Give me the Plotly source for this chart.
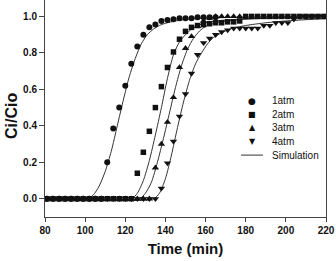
import plotly.graph_objects as go

# ---- experimental data (time in min, Ci/Cio) ----
t_1atm = [81, 84, 87, 90, 93, 96, 99, 102, 105, 108, 111, 114, 117, 120, 123, 126, 129, 132,
          135, 138, 141, 144, 147, 150, 153, 156, 159, 162, 165]
v_1atm = [0, 0, 0, 0, 0, 0, 0, 0, 0, 0, 0.20, 0.385, 0.50, 0.62, 0.74, 0.835, 0.90, 0.94,
          0.955, 0.975, 0.98, 0.985, 0.99, 0.99, 0.99, 0.995, 0.995, 0.995, 0.995]

t_2atm = [81, 84, 87, 90, 93, 96, 99, 102, 105, 108, 111, 114, 117, 120, 123, 126, 129, 132,
          135, 138, 141, 144, 147, 150, 153, 156, 159, 162, 165, 168, 171, 174, 177, 180,
          183, 186, 189, 192, 195, 198, 201, 204, 207, 210, 213, 216, 219]
v_2atm = [0, 0, 0, 0, 0, 0, 0, 0, 0, 0, 0, 0, 0, 0, 0, 0.14, 0.255, 0.37,
          0.50, 0.615, 0.72, 0.805, 0.875, 0.918, 0.94, 0.95, 0.955, 0.96, 0.965, 0.965, 0.97, 0.97, 0.975, 1.0,
          1.0, 1.0, 1.0, 1.0, 1.0, 1.0, 1.0, 1.0, 1.0, 1.0, 1.0, 1.0, 1.0]

t_3atm = [81, 84, 87, 90, 93, 96, 99, 102, 105, 108, 111, 114, 117, 120, 123, 126, 129, 132,
          135, 138, 141, 144, 147, 150, 153, 156, 159, 162, 165, 168, 171, 174, 177]
v_3atm = [0, 0, 0, 0, 0, 0, 0, 0, 0, 0, 0, 0, 0, 0, 0, 0, 0, 0,
          0.17, 0.30, 0.42, 0.556, 0.72, 0.825, 0.89, 0.945, 0.975, 0.99, 1.0, 1.0, 1.0, 1.0, 1.0]

t_4atm = [81, 84, 87, 90, 93, 96, 99, 102, 105, 108, 111, 114, 117, 120, 123, 126, 129, 132,
          135, 138, 141, 144, 147, 150, 153, 156, 159, 162, 165, 168, 171, 174, 177, 180,
          183, 186, 189, 192, 195, 198, 201, 204, 207, 210, 213, 216, 219]
v_4atm = [0, 0, 0, 0, 0, 0, 0, 0, 0, 0, 0, 0, 0, 0, 0, 0, 0, 0,
          0, 0.057, 0.196, 0.315, 0.452, 0.575, 0.687, 0.79, 0.855, 0.88, 0.90, 0.915, 0.925, 0.935, 0.935, 0.935,
          0.935, 0.935, 0.95, 0.95, 0.965, 0.965, 0.965, 0.985, 1.0, 1.0, 1.0, 1.0, 1.0]

# ---- simulation curves ----
sim1_t = [80, 101, 104, 107, 110, 113, 116, 119, 122, 125, 128, 131, 134, 137, 140, 145, 150, 160, 180, 220]
sim1_v = [0, 0, 0.02, 0.07, 0.15, 0.26, 0.40, 0.54, 0.67, 0.77, 0.85, 0.90, 0.93, 0.95, 0.962, 0.975, 0.983, 0.99, 0.996, 1.0]

sim2_t = [80, 123, 126, 129, 132, 135, 138, 141, 144, 147, 150, 153, 156, 160, 165, 170, 180, 200, 220]
sim2_v = [0, 0, 0.03, 0.10, 0.21, 0.35, 0.50, 0.66, 0.79, 0.86, 0.90, 0.93, 0.95, 0.965, 0.975, 0.98, 0.987, 0.995, 0.998]

sim3_t = [80, 127, 130, 133, 136, 139, 142, 145, 148, 151, 154, 157, 160, 165, 170, 180, 200, 220]
sim3_v = [0, 0, 0.03, 0.09, 0.20, 0.33, 0.47, 0.61, 0.73, 0.82, 0.88, 0.92, 0.945, 0.965, 0.975, 0.985, 0.993, 0.997]

sim4_t = [80, 134, 137, 140, 143, 146, 149, 152, 155, 158, 161, 164, 168, 172, 180, 190, 200, 210, 220]
sim4_v = [0, 0, 0.03, 0.11, 0.24, 0.39, 0.53, 0.65, 0.74, 0.80, 0.85, 0.885, 0.91, 0.93, 0.95, 0.965, 0.975, 0.982, 0.988]

x_ticks = [80, 100, 120, 140, 160, 180, 200, 220]
y_ticks = [0.0, 0.2, 0.4, 0.6, 0.8, 1.0]

legend_labels = ["1atm", "2atm", "3atm", "4atm", "Simulation"]
legend_glyphs = ["\u25CF", "\u25A0", "\u25B2", "\u25BC"]

INK = "#111111"
FONT = "Liberation Sans, Arial, sans-serif"

fig = go.Figure()

for tt, vv in [(sim1_t, sim1_v), (sim2_t, sim2_v), (sim3_t, sim3_v), (sim4_t, sim4_v)]:
    fig.add_trace(go.Scatter(x=tt, y=vv, mode="lines", line=dict(color="#333333", width=1, shape="spline", smoothing=0.7),
                             showlegend=False, hoverinfo="skip"))

series = [
    (t_4atm, v_4atm, "triangle-down", 6.5, "4atm"),
    (t_3atm, v_3atm, "triangle-up", 6.5, "3atm"),
    (t_2atm, v_2atm, "square", 5.5, "2atm"),
    (t_1atm, v_1atm, "circle", 6, "1atm"),
]
for tt, vv, sym, sz, nm in series:
    fig.add_trace(go.Scatter(x=tt, y=vv, mode="markers", name=nm,
                             marker=dict(symbol=sym, size=sz, color=INK, line=dict(width=0)),
                             showlegend=False))

L, R, T, B = 45, 10, 0, 44
W, H = 336, 261
pw, ph = W - L - R, H - T - B

def px_x(px):
    return (px - L) / pw

def px_y(py):
    return 1 - (py - T) / ph

annotations = []
rows = [100.7, 114.3, 127.9, 141.5, 155.1]
glyph_sizes = [9, 8, 8, 8]
for i, lab in enumerate(legend_labels):
    annotations.append(dict(x=px_x(270), y=px_y(rows[i]), xref="paper", yref="paper", text=lab,
                            showarrow=False, xanchor="left", yanchor="middle",
                            font=dict(family=FONT, size=10, color=INK)))
    if i < 4:
        annotations.append(dict(x=px_x(252), y=px_y(rows[i]), xref="paper", yref="paper",
                                text=legend_glyphs[i], showarrow=False, xanchor="center", yanchor="middle",
                                font=dict(family="DejaVu Sans", size=glyph_sizes[i], color=INK)))

annotations.append(dict(x=px_x(11), y=px_y(116), xref="paper", yref="paper", text="Ci/Cio",
                        textangle=-90, showarrow=False, xanchor="center", yanchor="middle",
                        font=dict(family=FONT, size=16, color=INK, weight="bold")))

shapes = [dict(type="line", xref="paper", yref="paper", x0=px_x(241), x1=px_x(263),
               y0=px_y(rows[4]), y1=px_y(rows[4]), line=dict(color="#333333", width=1))]

fig.update_layout(
    width=W, height=H,
    margin=dict(l=L, r=R, t=T, b=B, pad=0),
    paper_bgcolor="white", plot_bgcolor="white",
    showlegend=False,
    annotations=annotations,
    shapes=shapes,
    xaxis=dict(range=[80, 220], tickvals=x_ticks, ticktext=[str(v) for v in x_ticks],
               showgrid=False, zeroline=False, showline=True, linecolor="#444444", linewidth=1,
               ticks="outside", ticklen=4, tickcolor="#444444",
               tickfont=dict(family=FONT, size=10, color=INK, weight="bold"),
               title=dict(text="Time (min)", font=dict(family=FONT, size=15, color=INK, weight="bold"), standoff=8),
               automargin=False, fixedrange=True),
    yaxis=dict(range=[-0.1, 1.09], tickvals=y_ticks, ticktext=[f"{v:.1f}" for v in y_ticks],
               showgrid=False, zeroline=False, showline=True, mirror=True, linecolor="#444444", linewidth=1,
               ticks="outside", ticklen=5, tickcolor="#444444",
               tickfont=dict(family=FONT, size=10, color=INK, weight="bold"),
               automargin=False, fixedrange=True),
)

fig.write_html("out.html")
